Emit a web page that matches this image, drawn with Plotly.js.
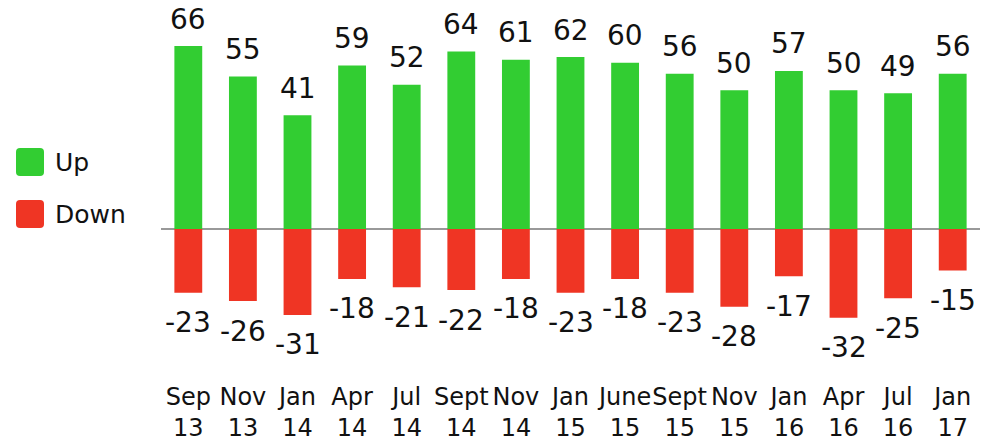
<!DOCTYPE html>
<html><head><meta charset="utf-8">
<script src="https://cdn.plot.ly/plotly-3.0.1.min.js"></script>
<style>html,body{margin:0;padding:0;background:#fff}#chart{width:988px;height:440px}</style>
</head><body><div id="chart"></div>
<script>
const categories = ["Sep<br>13","Nov<br>13","Jan<br>14","Apr<br>14","Jul<br>14","Sept<br>14","Nov<br>14","Jan<br>15","June<br>15","Sept<br>15","Nov<br>15","Jan<br>16","Apr<br>16","Jul<br>16","Jan<br>17"];
const upValues = [66,55,41,59,52,64,61,62,60,56,50,57,50,49,56];
const downValues = [-23,-26,-31,-18,-21,-22,-18,-23,-18,-23,-28,-17,-32,-25,-15];
const seriesNames = ["Up","Down"];
const green = "#32cd32", red = "#ef3524";
const FONT = "DejaVu Sans, Verdana, sans-serif";

const W = 988, H = 440, mL = 161, mR = 8, mT = 10, mB = 60;
const pw = W - mL - mR, ph = H - mT - mB;
const px2x = p => (p - mL) / pw;
const py2y = p => 1 - (p - mT) / ph;

const traces = [
  {type:"bar", x:categories, y:upValues, name:seriesNames[0], marker:{color:green}, hoverinfo:"skip"},
  {type:"bar", x:categories, y:downValues, name:seriesNames[1], marker:{color:red}, hoverinfo:"skip"}
];

const annotations = [];
upValues.forEach((v,i)=>annotations.push({x:categories[i], y:v, xref:"x", yref:"y", text:String(v), showarrow:false, yanchor:"middle", yshift:27, font:{family:FONT,size:28,color:"#111"}}));
downValues.forEach((v,i)=>annotations.push({x:categories[i], y:v, xref:"x", yref:"y", text:String(v), showarrow:false, yanchor:"middle", yshift:-30, font:{family:FONT,size:28,color:"#111"}}));

// legend built manually (big rounded swatches)
function rr(x0,y0,x1,y1,r){
  const X=px2x, Y=py2y;
  return `M${X(x0+r)},${Y(y0)} L${X(x1-r)},${Y(y0)} Q${X(x1)},${Y(y0)} ${X(x1)},${Y(y0+r)} L${X(x1)},${Y(y1-r)} Q${X(x1)},${Y(y1)} ${X(x1-r)},${Y(y1)} L${X(x0+r)},${Y(y1)} Q${X(x0)},${Y(y1)} ${X(x0)},${Y(y1-r)} L${X(x0)},${Y(y0+r)} Q${X(x0)},${Y(y0)} ${X(x0+r)},${Y(y0)} Z`;
}
const legendItems = [{name:seriesNames[0], color:green, y0:148, y1:176},{name:seriesNames[1], color:red, y0:200, y1:228}];
const shapes = legendItems.map(it=>({type:"path", xref:"paper", yref:"paper", path:rr(16,it.y0,44,it.y1,4), fillcolor:it.color, line:{width:0}}));
legendItems.forEach(it=>annotations.push({xref:"paper", yref:"paper", x:px2x(53), y:py2y((it.y0+it.y1)/2), xanchor:"left", yanchor:"middle", text:it.name, showarrow:false, font:{family:FONT,size:25,color:"#111"}}));

const layout = {
  width:W, height:H, margin:{l:mL,r:mR,t:mT,b:mB},
  paper_bgcolor:"#fff", plot_bgcolor:"#fff",
  barmode:"relative", bargap:0.49, showlegend:false,
  font:{family:FONT, size:24, color:"#111"},
  xaxis:{type:"category", showgrid:false, showline:false, ticks:"", tickfont:{family:FONT,size:24,color:"#111"}, tickangle:0, automargin:false},
  yaxis:{range:[ (229-(H-mB))/2.7727, (229-mT)/2.7727 ], showgrid:false, showticklabels:false, zeroline:true, zerolinecolor:"#999", zerolinewidth:2, showline:false, ticks:""},
  annotations, shapes
};
Plotly.newPlot("chart", traces, layout, {staticPlot:true});
</script></body></html>
